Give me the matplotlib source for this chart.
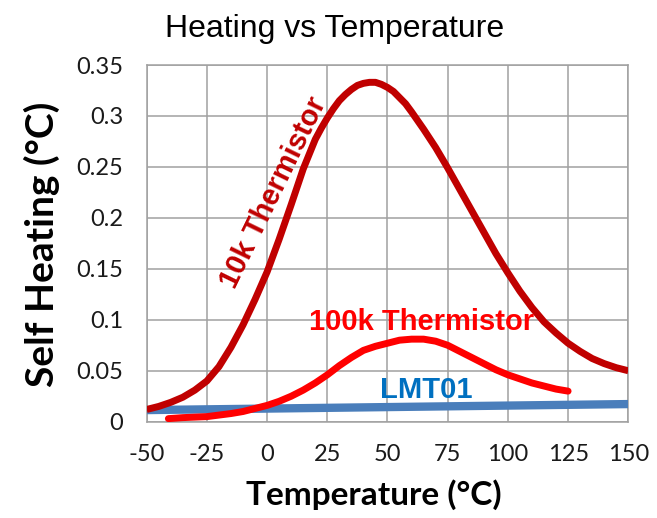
import matplotlib
matplotlib.use("Agg")
import matplotlib.pyplot as plt

# Data
temp_10k = [-50, -45, -40, -35, -30, -25, -20, -15, -10, -5, 0, 5, 10, 15, 20, 22.5, 25,
            27.5, 30, 32.5, 35, 37.5, 40, 42.5, 45, 47.5, 50, 52.5, 55, 57.5, 60, 65, 70,
            75, 80, 85, 90, 95, 100, 105, 110, 115, 120, 125, 130, 135, 140, 145, 150]
heat_10k = [0.012, 0.015, 0.019, 0.024, 0.031, 0.040, 0.054, 0.073, 0.095, 0.120, 0.147,
            0.179, 0.213, 0.248, 0.277, 0.288, 0.298, 0.307, 0.315, 0.321, 0.326, 0.330,
            0.332, 0.333, 0.333, 0.331, 0.328, 0.324, 0.318, 0.312, 0.304, 0.287, 0.269,
            0.249, 0.228, 0.207, 0.186, 0.165, 0.146, 0.128, 0.112, 0.098, 0.087, 0.077,
            0.069, 0.062, 0.057, 0.053, 0.050]

temp_100k = [-41, -35, -25, -15, -10, -5, 0, 5, 10, 15, 20, 25, 30, 35, 40, 45, 50, 55,
             60, 65, 70, 75, 80, 85, 90, 95, 100, 105, 110, 115, 120, 125]
heat_100k = [0.003, 0.004, 0.005, 0.008, 0.010, 0.013, 0.016, 0.020, 0.025, 0.031, 0.038,
             0.046, 0.055, 0.063, 0.070, 0.074, 0.077, 0.080, 0.081, 0.081, 0.079, 0.075,
             0.069, 0.063, 0.057, 0.051, 0.046, 0.042, 0.038, 0.035, 0.032, 0.030]

temp_lmt = [-50, 150]
heat_lmt = [0.0114, 0.0173]

x_ticks = [-50, -25, 0, 25, 50, 75, 100, 125, 150]
y_ticks = [0, 0.05, 0.1, 0.15, 0.2, 0.25, 0.3, 0.35]
y_tick_labels = ["0", "0.05", "0.1", "0.15", "0.2", "0.25", "0.3", "0.35"]

fig = plt.figure(figsize=(6.57, 5.18), dpi=100)
ax = fig.add_axes([0.2233, 0.1859, 0.9563 - 0.2233, 0.8745 - 0.1859])

ax.plot(temp_lmt, heat_lmt, color="#4A7EBB", lw=6, solid_capstyle="butt", zorder=3)
ax.plot(temp_100k, heat_100k, color="#FF0000", lw=5, solid_capstyle="round",
        solid_joinstyle="round", zorder=4)
ax.plot(temp_10k, heat_10k, color="#C00000", lw=5, solid_capstyle="butt",
        solid_joinstyle="round", zorder=5)

ax.set_xlim(-50, 150)
ax.set_ylim(0, 0.35)
ax.set_xticks(x_ticks)
ax.set_xticklabels([str(v) for v in x_ticks])
ax.set_yticks(y_ticks)
ax.set_yticklabels(y_tick_labels)
ax.grid(True, color="#A0A0A0", lw=1.1)
ax.set_axisbelow(True)
for s in ax.spines.values():
    s.set_color("#A0A0A0")
    s.set_linewidth(1.1)
ax.tick_params(axis="both", length=0, labelsize=17, labelcolor="#1a1a1a")
ax.tick_params(axis="y", pad=17)
ax.tick_params(axis="x", pad=16)
for lab in ax.get_xticklabels() + ax.get_yticklabels():
    lab.set_family("Lato")

fig.text(373.5 / 657, 1 - 495 / 518, "Temperature (°C)", ha="center", va="center",
         fontsize=24, fontweight="bold", family="Lato")
fig.text(42 / 657, 1 - 244 / 518, "Self Heating (°C)", ha="center", va="center",
         rotation=90, fontsize=28, fontweight="bold", family="Lato")

fig.text(335 / 657, 1 - 29 / 518, "Heating vs Temperature", ha="center", va="center",
         fontsize=23, family="Liberation Sans")

ax.text(2.5, 0.2245, "10k Thermistor", rotation=64, ha="center", va="center",
        fontsize=21, fontweight="bold", color="#C00000", family="Liberation Sans",
        rotation_mode="anchor", zorder=6)
ax.text(64, 0.0976, "100k Thermistor", ha="center", va="center",
        fontsize=21, fontweight="bold", color="#FF0000", family="Liberation Sans", zorder=6)
ax.text(66, 0.0312, "LMT01", ha="center", va="center",
        fontsize=21, fontweight="bold", color="#0070C0", family="Liberation Sans", zorder=6)

fig.savefig("out.png", dpi=100)
